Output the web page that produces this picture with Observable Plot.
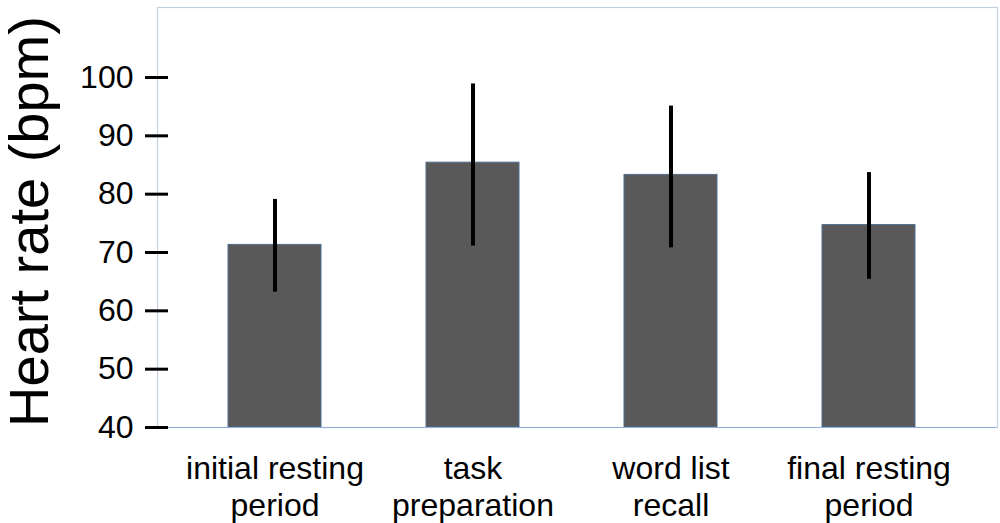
<!DOCTYPE html>
<html>
<head>
<meta charset="utf-8">
<script src="https://cdn.jsdelivr.net/npm/d3@7"></script>
<script src="https://cdn.jsdelivr.net/npm/@observablehq/plot@0.6"></script>
<style>
  html, body { margin: 0; padding: 0; background: #fff; }
  #chart svg { display: block; }
</style>
</head>
<body>
<div id="chart"></div>
<script>
const categories = ["initial resting\nperiod", "task\npreparation", "word list\nrecall", "final resting\nperiod"];
const meanHR = [71.3, 85.4, 83.3, 74.7];
const lowerHR = [63.2, 71.1, 70.8, 65.4];
const upperHR = [79.1, 98.9, 95.1, 83.7];
const yTicks = [40, 50, 60, 70, 80, 90, 100];
const yLabel = "Heart rate (bpm)";
const baseline = 40;

const data = categories.map((c, i) => ({cat: c, mean: meanHR[i], lo: lowerHR[i], hi: upperHR[i]}));

const chart = Plot.plot({
  width: 1000,
  height: 523,
  marginLeft: 157,
  marginRight: 3,
  marginTop: 7,
  marginBottom: 96,
  style: {fontFamily: "'Liberation Sans', Arial, sans-serif", background: "#fff", color: "#000"},
  x: {domain: categories, paddingInner: 0.529, paddingOuter: 0.38, align: 0.4625},
  y: {domain: [40, 112]},
  marks: [
    Plot.frame({stroke: "#c3d1de", strokeWidth: 1.2}),
    Plot.barY(data, {x: "cat", y1: baseline, y2: "mean", fill: "#595959", stroke: "#4f6f90", strokeWidth: 1}),
    Plot.ruleY([baseline], {stroke: "#8eb0da", strokeWidth: 1.2}),
    Plot.ruleX(data, {x: "cat", y1: "lo", y2: "hi", stroke: "#000", strokeWidth: 4}),
    Plot.axisY(yTicks, {tickSize: 23, dx: 11, tickPadding: 12, fontSize: 32, stroke: "#000", strokeWidth: 3, fill: "#000", label: null}),
    Plot.axisX({tickSize: 0, tickPadding: 25, fontSize: 32, lineHeight: 1.156, fill: "#000", label: null}),
    Plot.text([yLabel], {text: d => d, frameAnchor: "left", rotate: -90, dx: -110, dy: 4, lineAnchor: "bottom", textAnchor: "middle", fontSize: 56, fill: "#000"})
  ]
});
document.getElementById("chart").appendChild(chart);
</script>
</body>
</html>
